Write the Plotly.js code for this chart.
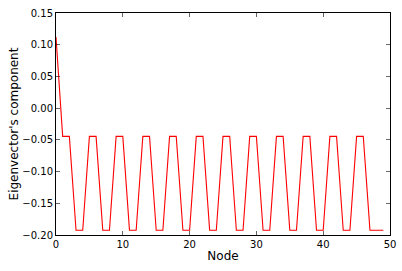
<!DOCTYPE html>
<html>
<head>
<meta charset="utf-8">
<script src="https://cdn.plot.ly/plotly-3.0.1.min.js"></script>
<style>html,body{margin:0;padding:0;background:#fff;}#chart{width:402px;height:271px;}</style>
</head>
<body>
<div id="chart"></div>
<script>
const nodes = [0,1,2,3,4,5,6,7,8,9,10,11,12,13,14,15,16,17,18,19,20,21,22,23,24,25,26,27,28,29,30,31,32,33,34,35,36,37,38,39,40,41,42,43,44,45,46,47,48,49];
const components = [0.112,
  -0.0445,-0.0445,-0.1925,-0.1925,
  -0.0445,-0.0445,-0.1925,-0.1925,
  -0.0445,-0.0445,-0.1925,-0.1925,
  -0.0445,-0.0445,-0.1925,-0.1925,
  -0.0445,-0.0445,-0.1925,-0.1925,
  -0.0445,-0.0445,-0.1925,-0.1925,
  -0.0445,-0.0445,-0.1925,-0.1925,
  -0.0445,-0.0445,-0.1925,-0.1925,
  -0.0445,-0.0445,-0.1925,-0.1925,
  -0.0445,-0.0445,-0.1925,-0.1925,
  -0.0445,-0.0445,-0.1925,-0.1925,
  -0.0445,-0.0445,-0.1925,-0.1925,
  -0.1925];
const xTicks = [0,10,20,30,40,50];
const yTicks = [-0.20,-0.15,-0.10,-0.05,0.00,0.05,0.10,0.15];

const font = {family: 'DejaVu Sans', size: 10, color: '#000'};
const axisCommon = {
  showline: true, linecolor: '#000', linewidth: 1, mirror: 'ticks',
  ticks: 'inside', ticklen: 4, tickcolor: '#000', tickwidth: 0.6,
  showgrid: false, zeroline: false, tickfont: font
};
Plotly.newPlot('chart', [{
  x: nodes, y: components, type: 'scatter', mode: 'lines',
  line: {color: '#ff0000', width: 1.1}
}], {
  width: 402, height: 271,
  margin: {l: 55.5, r: 12, t: 12.5, b: 36},
  paper_bgcolor: '#fff', plot_bgcolor: '#fff',
  showlegend: false,
  xaxis: Object.assign({}, axisCommon, {
    range: [0, 50], tickvals: xTicks, ticktext: xTicks.map(String),
    title: {text: 'Node', font: {family: 'DejaVu Sans', size: 12, color: '#000'}, standoff: 2}
  }),
  yaxis: Object.assign({}, axisCommon, {
    range: [-0.20, 0.15], tickvals: yTicks, tickformat: '.2f',
    title: {text: "Eigenvector's component", font: {family: 'DejaVu Sans', size: 12, color: '#000'}, standoff: 1}
  })
}, {staticPlot: true, displayModeBar: false});
</script>
</body>
</html>
